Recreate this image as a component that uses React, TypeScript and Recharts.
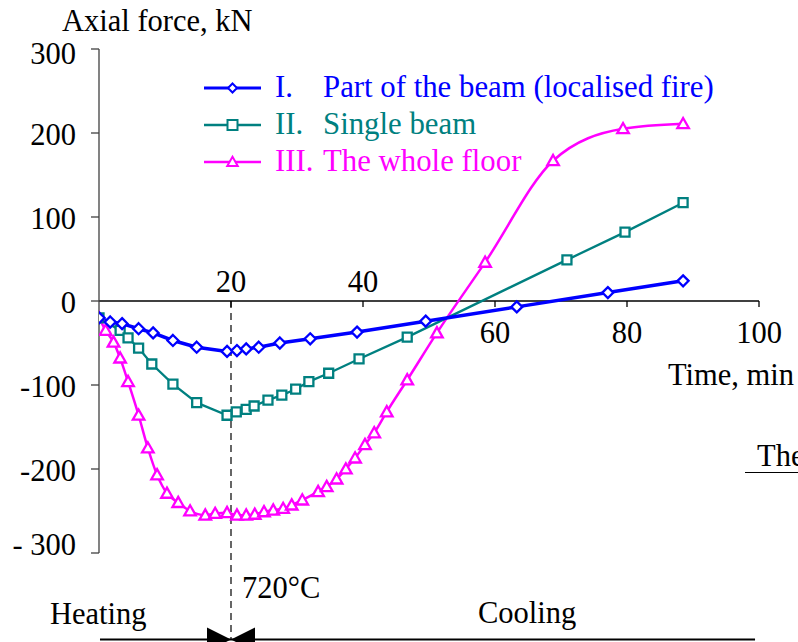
import React from 'react';
import { LineChart, Line, XAxis, YAxis, ReferenceLine, ReferenceDot, Legend } from 'recharts';

// ---- data ----
const partTime = [0, 1.7, 3.5, 6, 8.2, 11.2, 14.8, 19.4, 20.9, 22.3, 24.2, 27.4, 32, 39.1, 49.5, 63.3, 77.1, 88.5];
const partForce = [-20, -25, -27, -33, -38, -47, -55, -60, -59, -57, -55, -50, -45, -37, -24, -7, 10, 24];

const singleTime = [0, 3.2, 4.4, 6, 8, 11.2, 14.8, 19.4, 20.8, 22.3, 23.5, 25.6, 27.7, 29.8, 31.8, 34.8, 39.4, 46.7, 70.9, 79.7, 88.5];
const singleForce = [-20, -35, -44, -56, -75, -99, -121, -136, -132, -129, -125, -118, -112, -105, -96, -86, -69, -43, 49, 82, 117];

const floorTime = [0, 1, 2.2, 3.2, 4.4, 6, 7.4, 8.8, 10.3, 12, 13.8, 16.1, 17.6, 19.4, 20.9, 22.3, 23.6, 25, 26.4, 27.9, 29.2, 30.8, 33.2, 34.5, 36, 37.4, 38.8, 40.3, 41.7, 43.6, 46.7, 51.2, 58.5, 68.8, 79.4, 88.5];
const floorForce = [-20, -35, -49, -68, -96, -136, -175, -207, -229, -240, -250, -255, -253, -252, -255, -255, -254, -251, -249, -247, -243, -237, -227, -221, -212, -200, -187, -171, -157, -132, -94, -38, 46, 167, 205, 211];

const seriesNumerals = ['I.', 'II.', 'III.'];
const seriesNames = ['Part of the beam (localised fire)', 'Single beam', 'The whole floor'];
const seriesColors = ['#0000FF', '#008080', '#FF00FF'];

const yTicks = [-300, -200, -100, 0, 100, 200, 300];
const yTickLabels: Record<number, string> = { [-300]: '- 300', [-200]: '-200', [-100]: '-100', 0: '0', 100: '100', 200: '200', 300: '300' };
const xTicksAbove = [20, 40];
const xTicksBelow = [60, 80, 100];
const xTickMarks = [20, 40, 60, 80, 100];
const peakTime = 20;
const phaseLineLevel = -403;
const phaseLineStart = 0.15;
const phaseLineEnd = 99.4;

const zip = (ts: number[], fs: number[]) => ts.map((t, i) => ({ t, f: fs[i] }));
const partData = zip(partTime, partForce);
const singleData = zip(singleTime, singleForce);
const floorData = zip(floorTime, floorForce);

const FONT = '"Liberation Serif", "Times New Roman", serif';
const FS = 30.5;

const markerPath = (kind: number, cx: number, cy: number, s: number) => {
  if (kind === 0) return `M${cx},${cy - s} L${cx + s},${cy} L${cx},${cy + s} L${cx - s},${cy} Z`;
  if (kind === 1) return `M${cx - s},${cy - s} L${cx + s},${cy - s} L${cx + s},${cy + s} L${cx - s},${cy + s} Z`;
  return `M${cx},${cy - s * 1.05} L${cx + s * 1.05},${cy + s * 0.8} L${cx - s * 1.05},${cy + s * 0.8} Z`;
};

const makeDot = (kind: number, color: string, size: number, sw: number) => (props: any) => {
  const { cx, cy, index } = props;
  if (cx == null || cy == null) return <g key={`d${kind}-${index}`} />;
  return (
    <path key={`d${kind}-${index}`} d={markerPath(kind, cx, cy, size)} fill="#fff" stroke={color} strokeWidth={sw} />
  );
};

const renderYTick = (p: any) => {
  const v = p.payload.value as number;
  const extra = v === 300 ? 4 : v === -300 ? -9 : 1;
  return (
    <text x={p.x} y={p.y + extra} dy="0.355em" textAnchor="end" fontFamily={FONT} fontSize={FS} fill="#000">
      {yTickLabels[v]}
    </text>
  );
};

const renderLegend = () => (
  <div style={{ fontFamily: FONT, fontSize: 30.8, lineHeight: '37px' }}>
    {seriesNames.map((name, i) => (
      <div key={name} style={{ display: 'flex', alignItems: 'center', height: 37, color: seriesColors[i], whiteSpace: 'nowrap' }}>
        <svg width={75} height={37} style={{ display: 'block' }}>
          <line x1={4} x2={61} y1={19} y2={19} stroke={seriesColors[i]} strokeWidth={i === 0 ? 3 : 2.5} />
          <path d={markerPath(i, 32.5, 19, i === 0 ? 4.5 : 5)} fill="#fff" stroke={seriesColors[i]} strokeWidth={2} />
        </svg>
        <span style={{ display: 'inline-block', width: 48 }}>{seriesNumerals[i]}</span>
        <span>{name}</span>
      </div>
    ))}
  </div>
);

const textStyle = (left: number, top: number): React.CSSProperties => ({
  position: 'absolute', left, top, fontFamily: FONT, fontSize: FS, lineHeight: 1, whiteSpace: 'nowrap', color: '#000',
});

export default function App() {
  return (
    <div style={{ position: 'absolute', left: 0, top: 0, width: 798, height: 642, background: '#fff', overflow: 'hidden' }}>
      <LineChart width={798} height={642} margin={{ top: 49, right: 39, bottom: 89, left: 0 }} style={{ fontFamily: FONT }}>
        <XAxis type="number" dataKey="t" domain={[0, 100]} allowDataOverflow hide />
        <YAxis
          type="number"
          domain={[-300, 300]}
          ticks={yTicks}
          interval={0}
          width={99}
          tickSize={8}
          tickMargin={15}
          allowDataOverflow
          axisLine={{ stroke: '#404040', strokeWidth: 1.3 }}
          tickLine={{ stroke: '#404040', strokeWidth: 1.3 }}
          tick={renderYTick}
        />
        <ReferenceLine y={0} stroke="#000" strokeWidth={1.5} />
        {xTickMarks.map((x) => (
          <ReferenceLine key={`tm${x}`} segment={[{ x, y: 0 }, { x, y: -7 }]} stroke="#000" strokeWidth={1.3} ifOverflow="visible" />
        ))}
        {xTicksAbove.map((x) => (
          <ReferenceDot key={`ta${x}`} x={x} y={0} r={0} ifOverflow="visible"
            shape={(p: any) => <text x={p.cx} y={p.cy - 9} textAnchor="middle" fontFamily={FONT} fontSize={FS} fill="#000">{x}</text>} />
        ))}
        {xTicksBelow.map((x) => (
          <ReferenceDot key={`tb${x}`} x={x} y={0} r={0} ifOverflow="visible"
            shape={(p: any) => <text x={p.cx} y={p.cy + 42} textAnchor="middle" fontFamily={FONT} fontSize={FS} fill="#000">{x}</text>} />
        ))}
        <ReferenceLine segment={[{ x: peakTime, y: 0 }, { x: peakTime, y: phaseLineLevel }]} stroke="#000" strokeWidth={1.2} strokeDasharray="7 5" ifOverflow="visible" />
        <ReferenceLine segment={[{ x: phaseLineStart, y: phaseLineLevel }, { x: phaseLineEnd, y: phaseLineLevel }]} stroke="#000" strokeWidth={2} ifOverflow="visible" />
        <ReferenceDot x={peakTime} y={phaseLineLevel} r={0} ifOverflow="visible"
          shape={(p: any) => (
            <g>
              <path d={`M${p.cx - 24},${p.cy - 12} L${p.cx},${p.cy} L${p.cx - 24},${p.cy + 12} Z`} fill="#000" />
              <path d={`M${p.cx + 24},${p.cy - 12} L${p.cx},${p.cy} L${p.cx + 24},${p.cy + 12} Z`} fill="#000" />
            </g>
          )} />
        <Line data={floorData} dataKey="f" name={seriesNames[2]} type="monotone" stroke={seriesColors[2]} strokeWidth={2.5}
          dot={makeDot(2, seriesColors[2], 5.5, 2.3)} activeDot={false} isAnimationActive={false} legendType="none" />
        <Line data={singleData} dataKey="f" name={seriesNames[1]} type="linear" stroke={seriesColors[1]} strokeWidth={2.3}
          dot={makeDot(1, seriesColors[1], 4.5, 2.3)} activeDot={false} isAnimationActive={false} legendType="none" />
        <Line data={partData} dataKey="f" name={seriesNames[0]} type="linear" stroke={seriesColors[0]} strokeWidth={3.5}
          dot={makeDot(0, seriesColors[0], 5.5, 2.3)} activeDot={false} isAnimationActive={false} legendType="none" />
        <Legend layout="vertical" align="center" verticalAlign="middle" content={renderLegend}
          wrapperStyle={{ top: 69, left: 200, width: 'auto', height: 'auto' }} />
      </LineChart>
      <div style={textStyle(62, 5.5)}>Axial force, kN</div>
      <div style={textStyle(668, 359.5)}>Time, min</div>
      <div style={textStyle(242, 572.5)}>720°C</div>
      <div style={textStyle(50, 598.5)}>Heating</div>
      <div style={textStyle(478, 597.5)}>Cooling</div>
      <div style={textStyle(757, 440.5)}>The</div>
      <div style={{ position: 'absolute', left: 745, top: 472, width: 60, borderTop: '1.5px solid #000' }} />
    </div>
  );
}
